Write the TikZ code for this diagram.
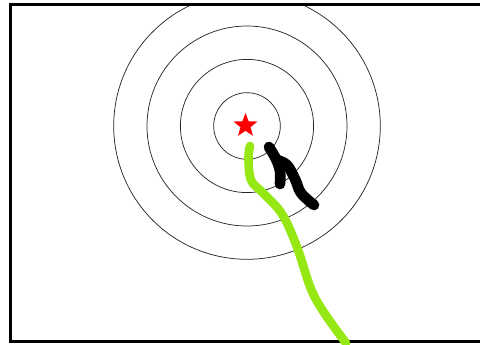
\documentclass[tikz,border=0pt]{standalone}
\usepackage{tikz}
\usetikzlibrary{shapes.geometric}
\definecolor{trailgreen}{RGB}{150,232,20}

\begin{document}
\begin{tikzpicture}[x=0.75pt,y=-0.75pt,
  ring/.style={draw=black!85,line width=0.55pt},
  trail/.style={line width=6.5pt,line cap=round,line join=round}]
  \useasboundingbox (0,0) rectangle (480,344);
  % target rings
  \coordinate (goal) at (247,126);
  \begin{scope}
    \clip (10.5,4.5) rectangle (479,341.5);
    \foreach \r in {33.3,66.6,100,133.3}{
      \draw[ring] (goal) circle (\r);
    }
  \end{scope}
  % frame
  \draw[line width=1.6pt] (480,4.5) -- (10.5,4.5) -- (10.5,341.5) -- (480,341.5);
  \node[star,star points=5,star point ratio=2.4,fill=red,minimum size=19pt,inner sep=0pt] (target) at (245.5,125.5) {};
  % green trail
  \draw[trail,trailgreen] plot[smooth,tension=0.6] coordinates
    {(250,146) (248.5,158) (251,180) (263,193) (282,214) (297,247) (311,289) (325,314) (346,343)};
  % black trail
  \draw[trail,black,line width=8pt] plot[smooth,tension=0.6] coordinates
    {(269,147) (276,159) (280,171) (280,184)};
  \draw[trail,black,line width=8pt] plot[smooth,tension=0.6] coordinates
    {(277,160) (287,165) (295,179) (301,193) (314,205)};
\end{tikzpicture}
\end{document}
